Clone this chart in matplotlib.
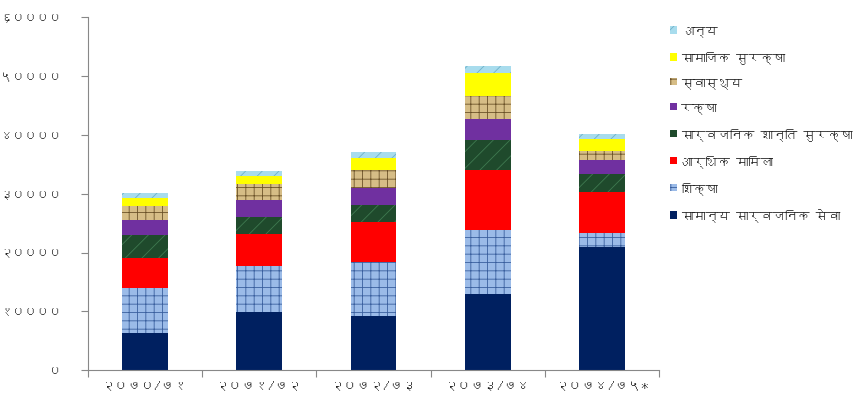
import matplotlib
matplotlib.use("Agg")
import matplotlib.pyplot as plt
import numpy as np
from matplotlib import font_manager
from matplotlib.ft2font import FT2Font

# look for an installed family that has Devanagari glyphs
deva = None
for f in font_manager.fontManager.ttflist:
    try:
        if 0x0915 in FT2Font(f.fname).get_charmap():
            deva = f.name
            break
    except Exception:
        pass
fams = [deva, 'DejaVu Sans'] if deva else ['DejaVu Sans']
plt.rcParams['font.family'] = fams
plt.rcParams['hatch.linewidth'] = 0.6

years = ['२०७०/७१', '२०७१/७२', '२०७२/७३', '२०७३/७४', '२०७४/७५*']

# stacked from bottom to top
general_service = [6250, 9900, 9240, 12990, 20890]
education = [7700, 7830, 9090, 10790, 2430]
economic = [5100, 5400, 6860, 10210, 6930]
public_peace = [3970, 2900, 2890, 5160, 3060]
defence = [2550, 2890, 2950, 3520, 2490]
health = [2380, 2670, 3010, 3970, 1530]
social_security = [1260, 1410, 2040, 3860, 1990]
other = [900, 850, 970, 1190, 850]

names = ['सामान्य सार्वजनिक सेवा', 'शिक्षा', 'आर्थिक मामिला',
         'सार्वजनिक शान्ति सुरक्षा', 'रक्षा', 'स्वास्थ्य',
         'सामाजिक सुरक्षा', 'अन्य']
series = [general_service, education, economic, public_peace,
          defence, health, social_security, other]
faces = ['#002060', '#9bbbe8', '#ff0000', '#1f4a2c', '#7030a0',
         '#d6bd86', '#ffff00', '#a8dced']
hatches = [None, '++', None, '//', None, '++', None, '//']
hatch_cols = ['#002060', '#3a5f9e', '#ff0000', '#3f7a50', '#7030a0',
              '#6b5228', '#ffff00', '#6fb0c8']

yticks = [0, 10000, 20000, 30000, 40000, 50000, 60000]
ylabels = ['०', '१००००', '२००००', '३००००', '४००००', '५००००', '६००००']

fig = plt.figure(figsize=(8.6, 4.02), dpi=100)
ax = fig.add_axes([0.1023, 0.077, 0.664, 0.877])

x = np.arange(len(years))
bottom = np.zeros(len(years))
handles = []
for vals, name, fc, h, hc in zip(series, names, faces, hatches, hatch_cols):
    b = ax.bar(x, vals, 0.4, bottom=bottom, color=fc, edgecolor=hc,
               hatch=h, linewidth=0, label=name)
    handles.append(b)
    bottom += np.array(vals)

ax.set_xlim(-0.5, 4.5)
ax.set_ylim(0, 60000)
ax.set_yticks(yticks)
ax.set_yticklabels(ylabels, fontsize=8.8, color='#222222')

# category boundaries as major ticks, labels on minor ticks
ax.set_xticks(np.arange(-0.5, 5, 1))
ax.set_xticklabels([])
ax.set_xticks(x, minor=True)
ax.set_xticklabels(years, minor=True, fontsize=9.5, color='#222222')
ax.tick_params(axis='x', which='minor', length=0, pad=6)
ax.tick_params(axis='x', which='major', length=5, color='#888888', direction='out')
ax.tick_params(axis='y', length=5, color='#888888', direction='out', pad=14)

for s in ['top', 'right']:
    ax.spines[s].set_visible(False)
for s in ['left', 'bottom']:
    ax.spines[s].set_color('#888888')

ax.legend(handles[::-1], names[::-1], loc='upper left',
          bbox_to_anchor=(1.0, 1.01), frameon=False, fontsize=8.8,
          handlelength=0.6, handleheight=0.6, handletextpad=0.3,
          labelspacing=1.15, labelcolor='#222222')

plt.savefig('out.png', dpi=100)
